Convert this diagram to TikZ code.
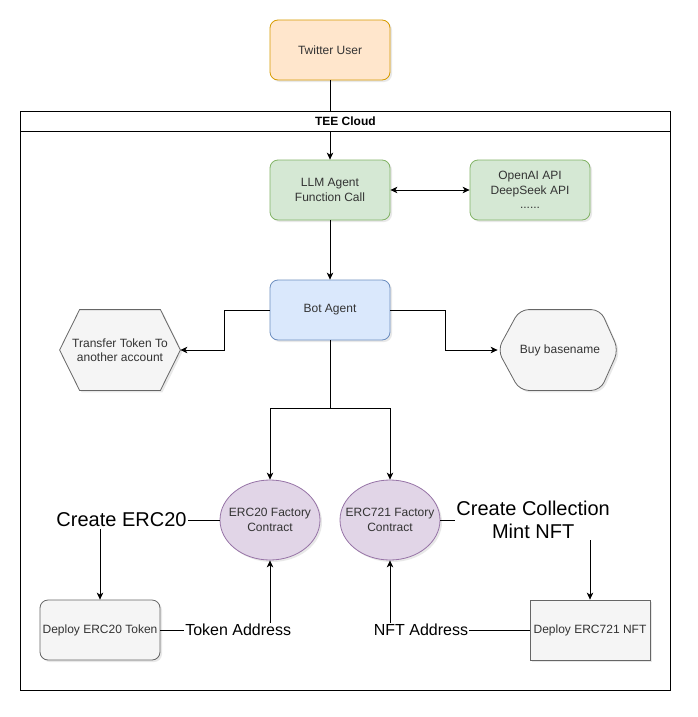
\documentclass[tikz,border=0pt]{standalone}
\usepackage{fontspec}
\setmainfont{Liberation Sans}
\usetikzlibrary{shapes.geometric,arrows.meta,shadows,backgrounds}
\definecolor{orgfill}{HTML}{FFE6CC}\definecolor{orgdraw}{HTML}{D79B00}
\definecolor{grnfill}{HTML}{D5E8D4}\definecolor{grndraw}{HTML}{82B366}
\definecolor{blufill}{HTML}{DAE8FC}\definecolor{bludraw}{HTML}{6C8EBF}
\definecolor{gryfill}{HTML}{F5F5F5}\definecolor{grydraw}{HTML}{666666}
\definecolor{purfill}{HTML}{E1D5E7}\definecolor{purdraw}{HTML}{9673A6}
\definecolor{txtc}{HTML}{333333}
\begin{document}
\begin{tikzpicture}[x=1pt,y=-1pt,
  base/.style={inner sep=1pt, align=center, font=\fontsize{12}{14.5}\selectfont, text=txtc,
    minimum width=120pt, minimum height=60pt, line width=0.8pt},
  shad/.style={drop shadow={opacity=0.18, shadow xshift=2pt, shadow yshift=-2pt}},
  rbox/.style={base, draw, rectangle, rounded corners=8pt, shad},
  twbox/.style={rbox, fill=orgfill, draw=orgdraw},
  gbox/.style={rbox, fill=grnfill, draw=grndraw},
  bbox/.style={rbox, fill=blufill, draw=bludraw},
  greybox/.style={rbox, fill=gryfill, draw=grydraw},
  sqbox/.style={base, draw=grydraw, fill=gryfill, rectangle, shad},
  ell/.style={ellipse, draw=purdraw, fill=purfill, inner sep=0pt, minimum width=100pt, minimum height=80pt, line width=0.8pt, shad},
  elltext/.style={inner sep=0pt, align=center, font=\fontsize{12}{14.5}\selectfont, text=txtc},
  hexnode/.style={base, minimum height=80pt},
  hexline/.style={draw=grydraw, fill=gryfill, line width=0.8pt, shad},
  line/.style={line width=0.8pt},
  arr/.style={line width=0.8pt, -{Stealth[length=7pt,width=6.5pt,inset=2pt]}},
  darr/.style={line width=0.8pt, {Stealth[length=7pt,width=6.5pt,inset=2pt]}-{Stealth[length=7pt,width=6.5pt,inset=2pt]}},
  lbl/.style={fill=white, font=\fontsize{16}{18}\selectfont, inner sep=1pt, text=black},
  biglbl/.style={fill=white, font=\fontsize{20}{23}\selectfont, inner sep=1.5pt, align=center, text=black}]
\useasboundingbox (0,0) rectangle (697,717);

% container
\node[draw, line width=0.8pt, minimum width=650pt, minimum height=579pt, anchor=north west, inner sep=0] (tee) at (20,111) {};
\node[draw, fill=white, line width=0.8pt, minimum width=650pt, minimum height=20pt, anchor=north west, inner sep=0,
  font=\bfseries\fontsize{12}{14}\selectfont] (teehead) at (20,111) {TEE Cloud};

% nodes
\node[twbox] (twitter) at (330,50) {Twitter User};
\node[gbox] (llm) at (330,190) {LLM Agent\\Function Call};
\node[gbox] (api) at (530,190) {OpenAI API\\DeepSeek API\\......};
\node[bbox] (bot) at (330,310) {Bot Agent};
\node[hexnode] (transfer) at (120,350) {Transfer Token To\\another account};
\node[hexnode] (buy) at (560,350) {Buy basename};
\node[ell] (erc20) at (270,520) {};
\node[elltext] (erc20t) at (erc20.center) {ERC20 Factory\\Contract};
\node[ell] (erc721) at (390,520) {};
\node[elltext] (erc721t) at (erc721.center) {ERC721 Factory\\Contract};
\node[greybox] (dep20) at (100,630) {Deploy ERC20 Token};
\node[sqbox] (dep721) at (590,630) {Deploy ERC721 NFT};
\coordinate (split) at (330,408);

\begin{scope}[on background layer]
  \draw[hexline] (transfer.west) -- ([xshift=20pt]transfer.north west) -- ([xshift=-20pt]transfer.north east)
    -- (transfer.east) -- ([xshift=-20pt]transfer.south east) -- ([xshift=20pt]transfer.south west) -- cycle;
  \draw[hexline, rounded corners=9pt] ([xshift=-2pt]buy.west) -- ([xshift=20pt]buy.north west) -- ([xshift=-20pt]buy.north east)
    -- ([xshift=-2pt]buy.east) -- ([xshift=-20pt]buy.south east) -- ([xshift=20pt]buy.south west) -- cycle;
\end{scope}

% connectors
\draw[line] (twitter.south) -- (twitter.south |- teehead.north);
\draw[arr] (teehead.south -| llm.north) -- (llm.north);
\draw[darr] (llm.east) -- (api.west);
\draw[arr] (llm.south) -- (bot.north);
\draw[arr] (bot.west) -- ([xshift=-45pt]bot.west) |- (transfer.east);
\draw[arr] (bot.east) -- ([xshift=55pt]bot.east) |- ([xshift=-2pt]buy.west);
\draw[line] (bot.south) -- (split);
\draw[arr] (split) -| (erc20.north);
\draw[arr] (split) -| (erc721.north);

\draw[arr] (erc20.west) -| node[biglbl, pos=0.41] {Create ERC20} (dep20.north);
\draw[arr] (dep20.east) -| node[lbl, pos=0.355] {Token Address} (erc20.south);
\draw[arr] (erc721.east) -| node[biglbl, pos=0.31] {Create Collection\\Mint NFT} (dep721.north);
\draw[arr] (dep721.west) -| node[lbl, pos=0.389] {NFT Address} (erc721.south);
\end{tikzpicture}
\end{document}
